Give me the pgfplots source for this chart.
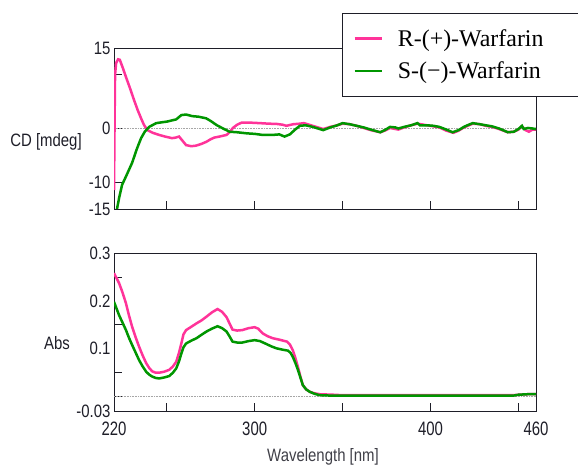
\documentclass[border=0pt]{standalone}
\usepackage{fontspec}
\setmainfont{Liberation Sans}
\newfontfamily\legendfont{Liberation Serif}
\usepackage{pgfplots}
\pgfplotsset{compat=1.18}

\definecolor{rpink}{RGB}{255,51,153}
\definecolor{sgreen}{RGB}{0,150,0}
\definecolor{ink}{RGB}{30,30,40}

% tick labels in the reference are drawn a little taller than wide
\newcommand\tl[1]{\scalebox{1}[1.2]{#1}}

\pgfplotsset{
	cdstyle/.style={
		scale only axis,
		width=422bp,
		xmin=220, xmax=460,
		tick pos=left,
		tick align=inside,
		major tick length=8bp,
		axis line style={ink, line width=0.8bp},
		every tick/.style={ink, line width=0.8bp},
		tick label style={font=\fontsize{15}{18}\selectfont, text=ink},
		/pgf/number format/assume math mode=true,
		xtick={250,300,350,400,450},
		extra tick style={major tick length=0pt},
		clip=true,
	},
}

\begin{document}
\begin{tikzpicture}[x=1bp,y=1bp]
	% ---- CD panel (top)
	\begin{axis}[
		cdstyle,
		height=161bp,
		at={(114bp,258bp)}, anchor=south west,
		ymin=-15, ymax=15,
		xticklabels={},
		ytick={-10,0,10},
		yticklabels={\tl{-10},\tl{0},},
		extra y ticks={-15,15},
		extra y tick labels={\tl{-15},\tl{15}},
		legend style={
				at={(0.5403,1.2174)}, anchor=north west,
				draw=ink, line width=0.8bp, fill=white,
				font=\legendfont\fontsize{24}{28}\selectfont,
				inner xsep=11bp, inner ysep=14bp,
				row sep=10bp, column sep=13bp,
				cells={anchor=west},
			},
		legend image code/.code={\draw[#1] (0bp,0bp) -- (27bp,0bp);},
		]
		\addplot[gray!70, densely dotted, line width=0.6bp, forget plot] coordinates {(220,0) (460,0)};
		\addplot[rpink, line width=2.5bp] coordinates {
				(220,-11.5) (220.3,0) (220.6,10) (221.2,12.2) (222.3,12.9) (223.3,12.8)
				(225,11.3) (226.8,9.6) (229,7.6) (231.4,5.3) (233.5,3.4) (235.4,1.9)
				(237,0.7) (239,-0.3) (242,-0.8) (245.7,-1.2) (249,-1.5) (253,-1.8)
				(255,-1.7) (257,-1.5) (259,-2.3) (261,-3.1) (264,-3.3) (266.6,-3.2)
				(269.5,-2.9) (272.4,-2.5) (275,-2.0) (277,-1.7) (280,-1.5) (284,-1.2)
				(286,-0.6) (287.6,0.1) (290,0.7) (292.6,1.1) (297,1.1) (302.9,1.0)
				(308,0.9) (312.6,0.85) (316,0.7) (318,0.5) (322,0.8) (325.7,0.9)
				(328,1.0) (330,0.8) (333,0.5) (336,0.2) (339,-0.1) (343,0.3) (347,0.6)
				(350,0.9) (354,0.8) (358,0.5) (362,0.1) (366,-0.3) (371.4,-0.7)
				(374,-0.4) (377,0.1) (381.7,-0.2) (385,0.2) (389,0.6) (392.6,0.9)
				(398,0.6) (401.7,0.4) (405,0.2) (409,-0.4) (413,-0.8) (416,-0.4)
				(419,0.2) (424,0.9) (428,0.8) (431.4,0.5) (435,0.3) (439,-0.1)
				(444,-0.7) (447.4,-0.6) (450,-0.2) (452,0.4) (454,-0.3) (456,-0.6)
				(458,-0.2) (460,-0.2)
			};
		\addlegendentry{R-(+)-Warfarin\hspace*{30bp}}
		\addplot[sgreen, line width=2.5bp] coordinates {
				(220,-17.6) (221.7,-15) (223,-12.8) (224.6,-10.5) (227,-8.8) (230.3,-6.4)
				(233,-3.8) (235.4,-1.8) (237.5,-0.6) (240,0.3) (244,1.0) (250.3,1.3)
				(255.4,1.7) (258.3,2.5) (261,2.6) (264.6,2.3) (268,2.2) (272.4,1.9)
				(275,1.4) (278.3,0.65) (282,0) (285.7,-0.6) (290,-0.7) (295.4,-0.9)
				(300,-1.0) (304.6,-1.2) (310,-1.2) (314,-1.1) (317,-1.5) (320,-1.1)
				(323,-0.2) (325.7,0.5) (329,0.6) (333,0.3) (336,0.0) (339,-0.3)
				(343,0.2) (347,0.6) (350,1.0) (354,0.8) (358,0.5) (362,0.2) (366,-0.2)
				(371.4,-0.7) (374,-0.3) (377,0.3) (380,0.2) (381.7,0) (385,0.3)
				(389,0.6) (392.6,1.0) (394,0.6) (398,0.6) (401.7,0.5) (405,0.3)
				(409,-0.2) (412.6,-0.7) (416,-0.3) (419,0.3) (421,0.6) (424,1.0)
				(428,0.8) (431.4,0.6) (435,0.4) (439,0.0) (444,-0.7) (447.4,-0.6)
				(450,-0.1) (452,0.5) (453,-0.1) (455.4,0.1) (458,0.0) (460,-0.1)
			};
		\addlegendentry{S-(\textminus)-Warfarin\hspace*{30bp}}
	\end{axis}

	% ---- Absorbance panel (bottom)
	\begin{axis}[
		cdstyle,
		height=158bp,
		at={(114bp,56bp)}, anchor=south west,
		ymin=-0.03, ymax=0.3,
		xticklabels={,\scalebox{1}[1.3]{300},,\scalebox{1}[1.3]{400},},
		extra x ticks={220,460},
		extra x tick labels={\scalebox{1}[1.3]{220},\scalebox{1}[1.3]{460}},
		xticklabel style={yshift=-7bp},
		ytick={0,0.05,0.15,0.25},
		yticklabels={},
		extra y ticks={-0.03,0.1,0.2,0.3},
		extra y tick labels={\tl{-0.03},\tl{0.1},\tl{0.2},\tl{0.3}},
		]
		\addplot[gray!70, densely dotted, line width=0.6bp] coordinates {(220,0) (460,0)};
		\addplot[rpink, line width=2.5bp] coordinates {
				(220,0.258) (222.9,0.237) (224.8,0.218) (226.8,0.195) (228.5,0.17)
				(230.3,0.146) (232.3,0.124) (234.3,0.104) (236.3,0.086) (238.3,0.07)
				(240,0.06) (241.7,0.053) (243.7,0.05) (245.7,0.05) (248.5,0.052)
				(251.4,0.056) (253.5,0.063) (255.4,0.073) (257,0.092) (258.3,0.111)
				(259.5,0.13) (261,0.139) (264,0.146) (266.9,0.153) (269.7,0.159)
				(272.6,0.167) (275.7,0.176) (278.9,0.183) (281.5,0.177) (284,0.166)
				(285.7,0.153) (287.4,0.14) (290,0.138) (293,0.139) (296.5,0.143)
				(300,0.145) (302,0.142) (304.6,0.132) (307.5,0.126) (310.3,0.122)
				(314,0.119) (318.3,0.115) (320,0.109) (321.7,0.097) (323.2,0.08)
				(324.6,0.062) (326,0.042) (327.4,0.024) (329.3,0.015) (331.4,0.01)
				(334,0.007) (337,0.005) (344.6,0.004) (350,0.003) (400,0.003)
				(447,0.003) (450,0.004) (455,0.005) (460,0.005)
			};
		\addplot[sgreen, line width=2.5bp] coordinates {
				(220,0.198) (222.9,0.17) (224.8,0.155) (226.8,0.139) (228.5,0.123)
				(230.3,0.108) (232.3,0.092) (234.3,0.076) (236.3,0.063) (238.3,0.052)
				(240,0.046) (241.7,0.042) (243.7,0.039) (245.7,0.038) (248.5,0.04)
				(251.4,0.043) (253.5,0.05) (255.4,0.059) (257,0.074) (258.3,0.09)
				(259.5,0.103) (261,0.111) (264,0.117) (266.9,0.122) (269.7,0.129)
				(272.6,0.136) (275.7,0.142) (278.9,0.147) (281.5,0.143) (284,0.136)
				(285.7,0.126) (287.4,0.115) (290,0.113) (293,0.113) (296.5,0.116)
				(300,0.118) (303,0.116) (306.6,0.11) (309.5,0.105) (312.3,0.101)
				(316,0.098) (319,0.096) (320.5,0.091) (321.7,0.083) (323.2,0.07)
				(324.6,0.056) (326,0.04) (327.4,0.024) (329.3,0.015) (331.4,0.01)
				(334,0.006) (337,0.003) (344.6,0.002) (350,0.002) (400,0.002)
				(447,0.002) (450,0.004) (455,0.005) (460,0.005)
			};
	\end{axis}

	% axis titles
	\node[font=\fontsize{15}{18}\selectfont, text=ink] at (46bp,325bp) {\tl{CD [mdeg]}};
	\node[font=\fontsize{15}{18}\selectfont, text=ink] at (57bp,124bp) {\tl{Abs}};
	\node[font=\fontsize{15}{18}\selectfont, text=ink!85] at (323bp,10bp) {\tl{Wavelength [nm]}};

	\pgfresetboundingbox
	\path[use as bounding box] (0,0) rectangle (578bp,467bp);
\end{tikzpicture}
\end{document}
